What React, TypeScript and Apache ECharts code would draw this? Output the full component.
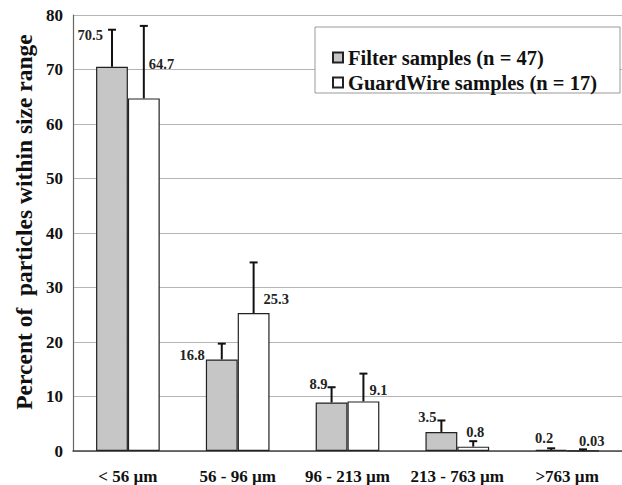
import React, { useEffect, useRef } from "react";
import * as echarts from "echarts";

const categories = ["< 56 µm", "56 - 96 µm", "96 - 213 µm", "213 - 763 µm", ">763 µm"];
const filterValues = [70.5, 16.8, 8.9, 3.5, 0.2];
const guardValues = [64.7, 25.3, 9.1, 0.8, 0.03];
const filterSD = [6.8, 2.9, 2.8, 2.1, 0.3];
const guardSD = [13.3, 9.3, 5.1, 1.0, 0.27];
const filterLabels = ["70.5", "16.8", "8.9", "3.5", "0.2"];
const guardLabels = ["64.7", "25.3", "9.1", "0.8", "0.03"];
const yTicks = { min: 0, max: 80, interval: 10 };

// label placement (pixels relative to error bar x and bar top)
const filterLabelShift = [[-9, -32], [-17, -4], [-4, -18], [-5, -15], [2, -12]];
const guardLabelShift = [[5, -34], [10, -14], [6, -11], [-7, -15], [-4, -10]];

const FONT = "'Liberation Serif', 'Times New Roman', serif";
const BAR_FRAC = 0.29;

function makeErrorSeries(name: string, values: number[], sds: number[], labels: string[], shifts: number[][], side: number, align: string) {
  return {
    type: "custom",
    name: name + " err",
    z: 5,
    encode: { x: 0, y: 1 },
    data: values.map((v, i) => [i, v, sds[i]]),
    renderItem: (params: any, api: any) => {
      const idx = api.value(0);
      const v = api.value(1);
      const sd = api.value(2);
      const base = api.coord([idx, v]);
      const top = api.coord([idx, v + sd]);
      const band = api.size([1, 0])[0];
      const bw = band * BAR_FRAC;
      const x = base[0] + (side * bw) / 2;
      const sh = shifts[params.dataIndex];
      return {
        type: "group",
        children: [
          { type: "line", shape: { x1: x, y1: base[1], x2: x, y2: top[1] }, style: { stroke: "#111", lineWidth: 2 } },
          { type: "line", shape: { x1: x - 4, y1: top[1], x2: x + 4, y2: top[1] }, style: { stroke: "#111", lineWidth: 2 } },
          {
            type: "text",
            x: x + sh[0],
            y: base[1] + sh[1],
            style: {
              text: labels[params.dataIndex],
              fontFamily: FONT,
              fontWeight: "bold",
              fontSize: 14.5,
              fill: "#222",
              align: align,
              verticalAlign: "middle",
            },
          },
        ],
      };
    },
  };
}

export default function App() {
  const ref = useRef<HTMLDivElement>(null);
  useEffect(() => {
    if (!ref.current) return;
    const chart = echarts.init(ref.current, null, { renderer: "svg" });
    chart.setOption({
      animation: false,
      backgroundColor: "#fff",
      grid: { left: 73, right: 0, top: 15, bottom: 31 },
      legend: {
        left: 327,
        top: 42,
        orient: "vertical",
        itemGap: 4,
        itemWidth: 10,
        itemHeight: 10,
        z: 10,
        icon: "rect",
        data: ["Filter samples (n = 47)", "GuardWire samples (n = 17)"],
        textStyle: { fontFamily: FONT, fontWeight: "bold", fontSize: 20.5, color: "#111", lineHeight: 20 },
      },
      graphic: [
        {
          type: "rect",
          z: 3,
          shape: { x: 315, y: 27, width: 305, height: 66 },
          style: { fill: "#fff", stroke: "#999", lineWidth: 1 },
        },
        {
          type: "text",
          x: 24,
          y: 222,
          rotation: Math.PI / 2,
          style: {
            text: "Percent of  particles within size range",
            fontFamily: FONT,
            fontWeight: "bold",
            fontSize: 23.5,
            fill: "#111",
            align: "center",
            verticalAlign: "middle",
          },
        },
      ],
      xAxis: {
        type: "category",
        data: categories,
        axisLine: { lineStyle: { color: "#444", width: 1.5 } },
        axisTick: { show: false },
        axisLabel: { interval: 0, fontFamily: FONT, fontWeight: "bold", fontSize: 17, color: "#111", margin: 17 },
      },
      yAxis: {
        type: "value",
        min: yTicks.min,
        max: yTicks.max,
        interval: yTicks.interval,
        axisLine: { show: true, lineStyle: { color: "#666", width: 1.2 } },
        axisTick: { show: false },
        axisLabel: { fontFamily: FONT, fontWeight: "bold", fontSize: 17, color: "#111", margin: 10 },
        splitLine: { lineStyle: { color: "#b5b5b5", width: 1 } },
      },
      series: [
        {
          type: "bar",
          name: "Filter samples (n = 47)",
          data: filterValues,
          barWidth: BAR_FRAC * 100 + "%",
          barGap: "0%",
          itemStyle: { color: "#c6c6c6", borderColor: "#222", borderWidth: 1.2 },
        },
        {
          type: "bar",
          name: "GuardWire samples (n = 17)",
          data: guardValues,
          barWidth: BAR_FRAC * 100 + "%",
          barGap: "0%",
          itemStyle: { color: "#ffffff", borderColor: "#222", borderWidth: 1.2 },
        },
        makeErrorSeries("Filter", filterValues, filterSD, filterLabels, filterLabelShift, -1, "right"),
        makeErrorSeries("Guard", guardValues, guardSD, guardLabels, guardLabelShift, 1, "left"),
      ],
    });
    return () => chart.dispose();
  }, []);
  return <div ref={ref} style={{ width: 622, height: 485, position: "absolute", left: 0, top: 0 }} />;
}
